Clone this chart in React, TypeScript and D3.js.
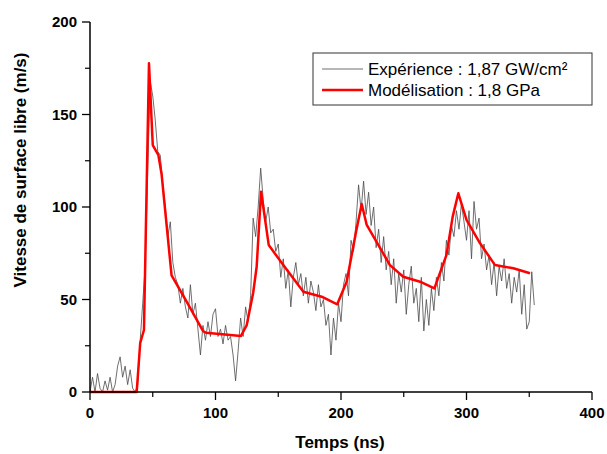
import React from "react";
import * as d3 from "d3";

const expTimes: number[] = d3.range(0, 356, 2);
const expValues: number[] = [
  0, 8, 0, 10, 2, 0, 6, 1, 8, 0, 4, 14, 19, 8, 14, 4, 12, 2, 0, 4,
  28, 48, 68, 120, 168, 160, 147, 130, 128, 112, 100, 84, 92, 70, 62, 58, 48, 56, 46, 40,
  58, 42, 48, 34, 20, 36, 28, 38, 30, 42, 45, 30, 34, 26, 36, 28, 30, 20, 6, 22,
  40, 30, 46, 38, 52, 94, 84, 100, 121, 104, 92, 100, 86, 88, 76, 80, 62, 72, 56, 66,
  46, 62, 70, 58, 64, 52, 62, 48, 60, 54, 44, 58, 46, 50, 36, 42, 20, 40, 28, 48,
  38, 58, 64, 52, 82, 76, 92, 112, 98, 114, 96, 108, 90, 100, 78, 88, 70, 84, 66, 76,
  58, 72, 48, 64, 54, 66, 42, 58, 68, 48, 56, 38, 62, 33, 50, 36, 56, 44, 62, 52,
  70, 60, 82, 74, 90, 84, 98, 88, 102, 92, 82, 98, 72, 103, 88, 94, 72, 80, 66, 74,
  58, 70, 52, 68, 60, 72, 56, 64, 48, 62, 54, 66, 42, 58, 34, 38, 65, 47,
];

const modTimes: number[] = [
  0, 37.2, 40, 43, 47, 50, 54.5, 57, 65, 77, 90, 92.4, 120.3, 124.8, 130, 132.8, 136.3,
  142.4, 154, 170, 184.6, 197, 204.5, 212, 216.5, 220.5, 239, 249.6, 263, 274.4, 284,
  289, 293.5, 300, 310.8, 322.7, 337.3, 350.6,
];
const modValues: number[] = [
  0, 0, 26.5, 33.5, 177.7, 133.5, 128, 118, 63, 48.8, 33, 32, 30.3, 36, 53.5, 67.7, 108.3,
  79.5, 68.6, 54.2, 51.5, 47.4, 59.6, 86.6, 101.6, 90.3, 68.6, 62.3, 59.6, 56, 74,
  94.8, 107.4, 93, 80.4, 68.6, 66.9, 64.2,
];

const xTicks: number[] = [0, 100, 200, 300, 400];
const xMinor: number[] = [50, 150, 250, 350];
const yTicks: number[] = [0, 50, 100, 150, 200];
const yMinor: number[] = [25, 75, 125, 175];

const legendLabels: string[] = ["Expérience : 1,87 GW/cm²", "Modélisation : 1,8 GPa"];

export default function App() {
  const W = 607, H = 454;
  const x = d3.scaleLinear().domain([0, 400]).range([90, 592]);
  const y = d3.scaleLinear().domain([0, 200]).range([392, 22]);
  const expLine = d3.line<number>().x((_, i) => x(expTimes[i])).y((d) => y(d))(expValues) || "";
  const modLine = d3.line<number>().x((_, i) => x(modTimes[i])).y((d) => y(d))(modValues) || "";
  const font = "Arial, 'Liberation Sans', sans-serif";
  return (
    <svg width={W} height={H} style={{ position: "absolute", left: 0, top: 0, background: "#fff" }} fontFamily={font}>
      <rect width={W} height={H} fill="#fff" />
      <path d={expLine} fill="none" stroke="#4a4a4a" strokeWidth={0.8} />
      <path d={modLine} fill="none" stroke="#ff0000" strokeWidth={2.5} strokeLinejoin="round" />
      {/* axes */}
      <line x1={90} x2={90} y1={y(200)} y2={y(0)} stroke="#000" strokeWidth={1.5} />
      <line x1={90} x2={x(400)} y1={392} y2={392} stroke="#000" strokeWidth={1.5} />
      {yTicks.map((t) => (
        <g key={"y" + t}>
          <line x1={82} x2={90} y1={y(t)} y2={y(t)} stroke="#000" strokeWidth={1.3} />
          <text x={77} y={y(t)} dy="0.36em" textAnchor="end" fontSize={15} fontWeight="bold">{t}</text>
        </g>
      ))}
      {yMinor.map((t) => (
        <line key={"ym" + t} x1={85} x2={90} y1={y(t)} y2={y(t)} stroke="#000" strokeWidth={1.2} />
      ))}
      {xTicks.map((t) => (
        <g key={"x" + t}>
          <line x1={x(t)} x2={x(t)} y1={392} y2={400} stroke="#000" strokeWidth={1.3} />
          <text x={x(t)} y={418} textAnchor="middle" fontSize={15} fontWeight="bold">{t}</text>
        </g>
      ))}
      {xMinor.map((t) => (
        <line key={"xm" + t} x1={x(t)} x2={x(t)} y1={392} y2={397} stroke="#000" strokeWidth={1.2} />
      ))}
      <text x={340} y={448} textAnchor="middle" fontSize={17} fontWeight="bold">Temps (ns)</text>
      <text transform="translate(26,170) rotate(-90)" textAnchor="middle" fontSize={17} fontWeight="bold">
        Vitesse de surface libre (m/s)
      </text>
      {/* legend */}
      <rect x={313} y={53} width={279} height={52} fill="#fff" stroke="#333" strokeWidth={1} />
      <line x1={322} x2={363} y1={69} y2={69} stroke="#4a4a4a" strokeWidth={0.8} />
      <line x1={322} x2={363} y1={90} y2={90} stroke="#ff0000" strokeWidth={2.5} />
      <text x={368} y={75} fontSize={17}>{legendLabels[0]}</text>
      <text x={368} y={96} fontSize={17}>{legendLabels[1]}</text>
    </svg>
  );
}
